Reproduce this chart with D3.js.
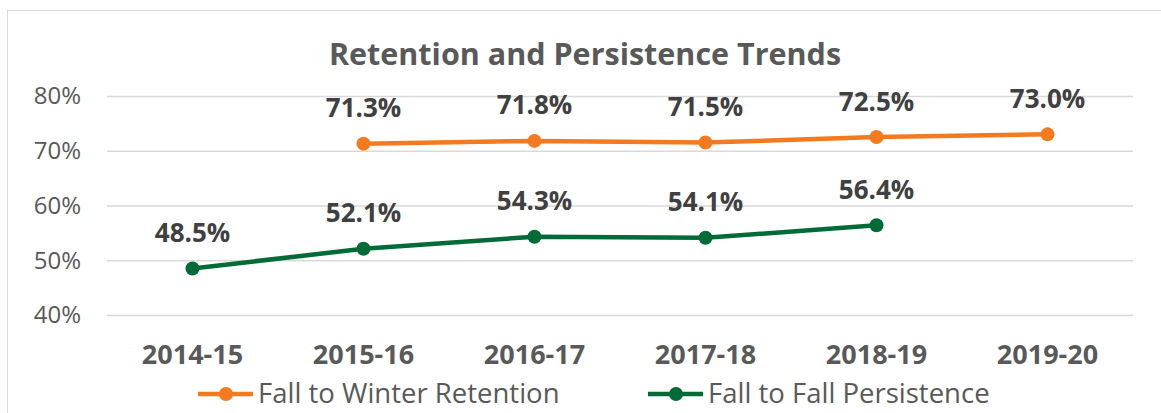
<!DOCTYPE html>
<html lang="en">
<head>
    <meta charset="UTF-8">
    <title>Retention and Persistence Trends</title>
    <script src="https://d3js.org/d3.v7.min.js"></script>
    <style>
        body { margin: 0; background: #fff; }
        text { font-family: "Open Sans", sans-serif; }
        .grid line { stroke: #d9d9d9; stroke-width: 1.5px; }
        .grid path { display: none; }
    </style>
</head>
<body>
    <div id="chart"></div>
    <script>
        var years = ["2014-15", "2015-16", "2016-17", "2017-18", "2018-19", "2019-20"];
        var retention = [null, 71.3, 71.8, 71.5, 72.5, 73.0];
        var persistence = [48.5, 52.1, 54.3, 54.1, 56.4, null];
        var yTicks = [40, 50, 60, 70, 80];

        var series = [
            { name: "Fall to Winter Retention", color: "#f47a20", values: retention },
            { name: "Fall to Fall Persistence", color: "#006b37", values: persistence }
        ];

        var width = 1161, height = 413;
        var margin = { top: 96, right: 28, bottom: 98, left: 107 };

        var svg = d3.select("#chart").append("svg")
            .attr("width", width)
            .attr("height", height);

        svg.append("rect")
            .attr("x", 7.5).attr("y", 10.5)
            .attr("width", width).attr("height", height)
            .attr("fill", "none").attr("stroke", "#d9d9d9");

        var x = d3.scaleBand()
            .domain(years)
            .range([margin.left, width - margin.right]);

        var y = d3.scaleLinear()
            .domain([40, 80])
            .range([height - margin.bottom, margin.top]);

        svg.append("g")
            .attr("class", "grid")
            .attr("transform", `translate(${margin.left},0)`)
            .call(d3.axisLeft(y).tickValues(yTicks).tickSize(-(width - margin.left - margin.right)).tickFormat(""));

        svg.selectAll(".ylab")
            .data(yTicks)
            .enter().append("text")
            .attr("x", 81)
            .attr("y", d => y(d))
            .attr("dy", "0.35em")
            .attr("text-anchor", "end")
            .attr("fill", "#595959")
            .attr("font-size", "24px")
            .text(d => d + "%");

        svg.selectAll(".xlab")
            .data(years)
            .enter().append("text")
            .attr("x", d => x(d) + x.bandwidth() / 2)
            .attr("y", 364)
            .attr("text-anchor", "middle")
            .attr("fill", "#595959")
            .attr("font-size", "27px")
            .attr("font-weight", "bold")
            .text(d => d);

        svg.append("text")
            .attr("x", 585)
            .attr("y", 65)
            .attr("text-anchor", "middle")
            .attr("fill", "#595959")
            .attr("font-size", "30.5px")
            .attr("font-weight", "bold")
            .text("Retention and Persistence Trends");

        var line = d3.line()
            .defined(d => d.v != null)
            .x(d => x(d.year) + x.bandwidth() / 2)
            .y(d => y(d.v));

        series.forEach(function (s) {
            var pts = years.map((yr, i) => ({ year: yr, v: s.values[i] }));
            var valid = pts.filter(d => d.v != null);

            svg.append("path")
                .datum(pts)
                .attr("fill", "none")
                .attr("stroke", s.color)
                .attr("stroke-width", 4.5)
                .attr("stroke-linejoin", "round")
                .attr("d", line);

            svg.selectAll(null)
                .data(valid)
                .enter().append("circle")
                .attr("cx", d => x(d.year) + x.bandwidth() / 2)
                .attr("cy", d => y(d.v))
                .attr("r", 7)
                .attr("fill", s.color);

            svg.selectAll(null)
                .data(valid)
                .enter().append("text")
                .attr("x", d => x(d.year) + x.bandwidth() / 2)
                .attr("y", d => y(d.v) - 26.5)
                .attr("text-anchor", "middle")
                .attr("fill", "#404040")
                .attr("font-size", "26px")
                .attr("font-weight", "bold")
                .text(d => d.v.toFixed(1) + "%");
        });

        var legend = svg.selectAll(".legend")
            .data(series)
            .enter().append("g")
            .attr("transform", (d, i) => `translate(${i === 0 ? 198 : 648},394)`);

        legend.append("line")
            .attr("x1", 0).attr("x2", 55)
            .attr("stroke", d => d.color)
            .attr("stroke-width", 4.5);

        legend.append("circle")
            .attr("cx", 28).attr("r", 7)
            .attr("fill", d => d.color);

        legend.append("text")
            .attr("x", 60)
            .attr("y", 9)
            .attr("fill", "#595959")
            .attr("font-size", "27.5px")
            .text(d => d.name);
    </script>
</body>
</html>
